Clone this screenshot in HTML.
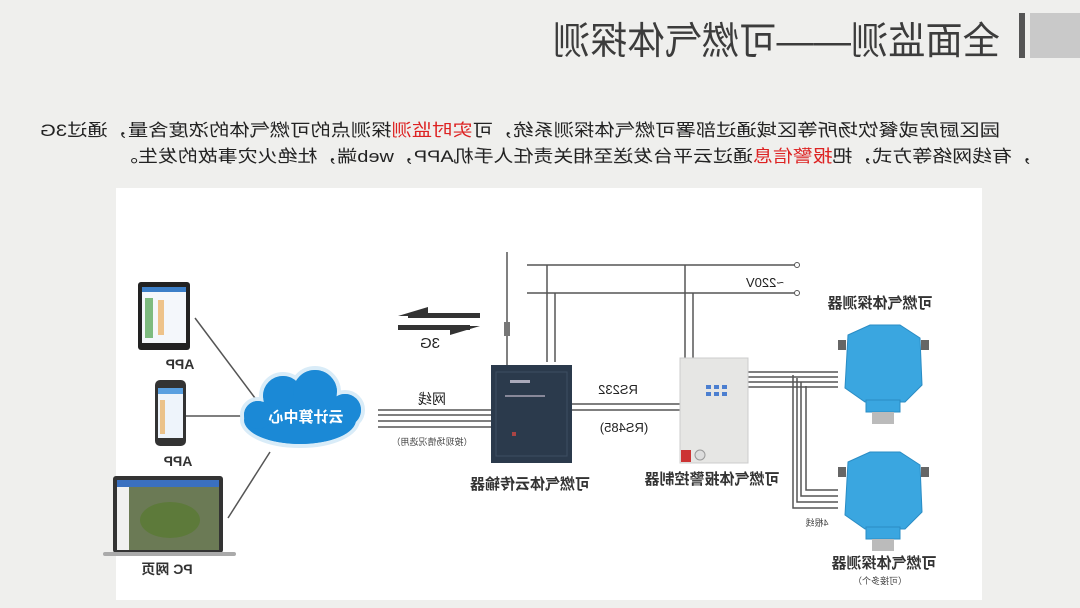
<!DOCTYPE html>
<html><head><meta charset="utf-8"><style>
html,body{margin:0;padding:0;background:#efefed;}
svg{display:block;font-family:"Liberation Sans","Noto Sans CJK SC",sans-serif;}
</style></head><body>
<svg width="1080" height="608" viewBox="0 0 1080 608" xmlns="http://www.w3.org/2000/svg">
<rect width="1080" height="608" fill="#efefed"/>
<rect x="1019" y="13" width="6" height="45" fill="#555"/>
<rect x="1030" y="13" width="50" height="45" fill="#c9c9c9"/>
<g transform="translate(1000,54) scale(-1,1)"><text x="0" y="0" font-size="38" fill="#3c3c3c" textLength="447" lengthAdjust="spacingAndGlyphs">全面监测——可燃气体探测</text></g>
<g transform="translate(1000,136) scale(-1,1)" font-size="17" fill="#222"><text x="0" y="0" textLength="960" lengthAdjust="spacingAndGlyphs">园区厨房或餐饮场所等区域通过部署可燃气体探测系统，可<tspan fill="#d22">实时监测</tspan>探测点的可燃气体的浓度含量，通过3G</text></g>
<g transform="translate(1032,162) scale(-1,1)" font-size="17" fill="#222"><text x="0" y="0" textLength="914" lengthAdjust="spacingAndGlyphs">，有线网络等方式，把<tspan fill="#d22">报警信息</tspan>通过云平台发送至相关责任人手机APP，web端，杜绝火灾事故的发生。</text></g>
<rect x="116" y="188" width="866" height="412" fill="#fff"/>
<g stroke="#555" stroke-width="1.5" fill="none">
<line x1="195" y1="318" x2="255" y2="398"/><line x1="185" y1="416" x2="245" y2="416"/><line x1="228" y1="518" x2="270" y2="452"/>
<line x1="378" y1="410" x2="492" y2="410"/><line x1="378" y1="415" x2="492" y2="415"/><line x1="378" y1="421" x2="492" y2="421"/><line x1="378" y1="427" x2="492" y2="427"/>
<line x1="507" y1="252" x2="507" y2="365"/>
<line x1="527" y1="265" x2="796" y2="265"/><line x1="527" y1="293" x2="796" y2="293"/>
<line x1="547" y1="265" x2="547" y2="362"/><line x1="555" y1="293" x2="555" y2="362"/>
<line x1="685" y1="265" x2="685" y2="358"/><line x1="693" y1="293" x2="693" y2="358"/>
<line x1="572" y1="404" x2="680" y2="404"/><line x1="572" y1="410" x2="680" y2="410"/>
<line x1="748" y1="372" x2="838" y2="372"/><line x1="748" y1="377" x2="838" y2="377"/><line x1="748" y1="382" x2="838" y2="382"/><line x1="748" y1="387" x2="838" y2="387"/>
<polyline points="793,375 793,508 838,508"/><polyline points="797,378 797,502 838,502"/><polyline points="801,382 801,496 838,496"/><polyline points="806,386 806,490 838,490"/>
</g>
<circle cx="797" cy="265" r="2.5" fill="#fff" stroke="#555"/><circle cx="797" cy="293" r="2.5" fill="#fff" stroke="#555"/>
<rect x="504" y="322" width="6" height="14" fill="#777"/>
<rect x="408" y="313" width="72" height="5" fill="#333"/>
<polygon points="398,316 428,307 428,316" fill="#333"/>
<rect x="398" y="325" width="72" height="5" fill="#333"/>
<polygon points="480,326 450,335 450,326" fill="#333"/>
<rect x="138" y="282" width="52" height="68" rx="3" fill="#222"/><rect x="142" y="287" width="44" height="56" fill="#f4f7fb"/>
<rect x="142" y="287" width="44" height="5" fill="#3c7fc8"/>
<rect x="145" y="298" width="8" height="40" fill="#4aa14a" opacity=".7"/><rect x="158" y="300" width="6" height="35" fill="#e9a040" opacity=".6"/>
<rect x="155" y="380" width="31" height="66" rx="5" fill="#333"/><rect x="158" y="388" width="25" height="50" fill="#eef4fb"/>
<rect x="158" y="388" width="25" height="6" fill="#5aa0e0"/><rect x="160" y="400" width="5" height="34" fill="#e9a040" opacity=".6"/>
<rect x="113" y="476" width="110" height="77" rx="3" fill="#333"/><rect x="117" y="480" width="102" height="70" fill="#6b7a55"/>
<rect x="117" y="480" width="102" height="7" fill="#3a70c0"/><rect x="117" y="487" width="12" height="63" fill="#f0f0f0"/>
<ellipse cx="170" cy="520" rx="30" ry="18" fill="#5d7a3a"/>
<rect x="103" y="552" width="133" height="4" rx="2" fill="#aaa"/>
<g fill="#1b89d6" stroke="#d9ecf8" stroke-width="4">
<ellipse cx="300" cy="420" rx="58" ry="26"/><circle cx="283" cy="396" r="22"/><circle cx="315" cy="392" r="24"/><circle cx="345" cy="410" r="18"/><circle cx="258" cy="415" r="16"/>
</g>
<g fill="#1b89d6"><ellipse cx="300" cy="420" rx="56" ry="24"/><circle cx="283" cy="396" r="20"/><circle cx="315" cy="392" r="22"/><circle cx="345" cy="410" r="16"/><circle cx="258" cy="415" r="14"/></g>
<rect x="491" y="365" width="81" height="98" fill="#2b3a4c"/><rect x="496" y="372" width="71" height="84" fill="none" stroke="#3d4e62"/>
<rect x="510" y="380" width="20" height="3" fill="#aab"/><rect x="505" y="395" width="40" height="2" fill="#889"/><rect x="512" y="432" width="4" height="4" fill="#a44"/>
<rect x="680" y="358" width="68" height="105" fill="#e6e6e4" stroke="#ccc"/>
<g fill="#4c7fd0"><rect x="706" y="385" width="5" height="4"/><rect x="714" y="385" width="5" height="4"/><rect x="722" y="385" width="5" height="4"/><rect x="706" y="392" width="5" height="4"/><rect x="714" y="392" width="5" height="4"/><rect x="722" y="392" width="5" height="4"/></g>
<rect x="681" y="450" width="10" height="12" fill="#c33"/><circle cx="700" cy="455" r="5" fill="#ddd" stroke="#999"/>
<g fill="#3aa6e0" stroke="#2a8cc4">
<polygon points="848,335 870,325 900,325 920,338 922,385 905,402 865,402 845,388"/><rect x="866" y="400" width="34" height="12"/>
<polygon points="848,462 870,452 900,452 920,465 922,512 905,529 865,529 845,515"/><rect x="866" y="527" width="34" height="12"/>
</g>
<g fill="#666"><rect x="838" y="340" width="8" height="10"/><rect x="921" y="340" width="8" height="10"/><rect x="838" y="467" width="8" height="10"/><rect x="921" y="467" width="8" height="10"/></g>
<rect x="872" y="412" width="22" height="12" fill="#bbb"/><rect x="872" y="539" width="22" height="12" fill="#bbb"/>
<g fill="#222" text-anchor="middle">
<g transform="translate(180,369) scale(-1,1)"><text font-size="14" font-weight="bold" fill="#333">APP</text></g>
<g transform="translate(178,466) scale(-1,1)"><text font-size="14" font-weight="bold" fill="#333">APP</text></g>
<g transform="translate(167,574) scale(-1,1)"><text font-size="14" font-weight="bold" fill="#333">PC 网页</text></g>
<g transform="translate(306,422) scale(-1,1)"><text font-size="15" font-weight="bold" fill="#fff">云计算中心</text></g>
<g transform="translate(432,404) scale(-1,1)"><text font-size="14">网线</text></g>
<g transform="translate(432,445) scale(-1,1)"><text font-size="9" fill="#444">（按现场情况选用）</text></g>
<g transform="translate(430,348) scale(-1,1)"><text font-size="15">3G</text></g>
<g transform="translate(530,489) scale(-1,1)"><text font-size="15" font-weight="bold" fill="#333">可燃气体云传输器</text></g>
<g transform="translate(618,394) scale(-1,1)"><text font-size="13">RS232</text></g>
<g transform="translate(624,432) scale(-1,1)"><text font-size="13">(RS485)</text></g>
<g transform="translate(712,484) scale(-1,1)"><text font-size="15" font-weight="bold" fill="#333">可燃气体报警控制器</text></g>
<g transform="translate(765,287) scale(-1,1)"><text font-size="13">~220V</text></g>
<g transform="translate(880,308) scale(-1,1)"><text font-size="15" font-weight="bold" fill="#333">可燃气体探测器</text></g>
<g transform="translate(884,568) scale(-1,1)"><text font-size="15" font-weight="bold" fill="#333">可燃气体探测器</text></g>
<g transform="translate(880,584) scale(-1,1)"><text font-size="9" fill="#444">（可接多个）</text></g>
<g transform="translate(817,526) scale(-1,1)"><text font-size="9" fill="#444">4根线</text></g>
</g>
</svg>
</body></html>
